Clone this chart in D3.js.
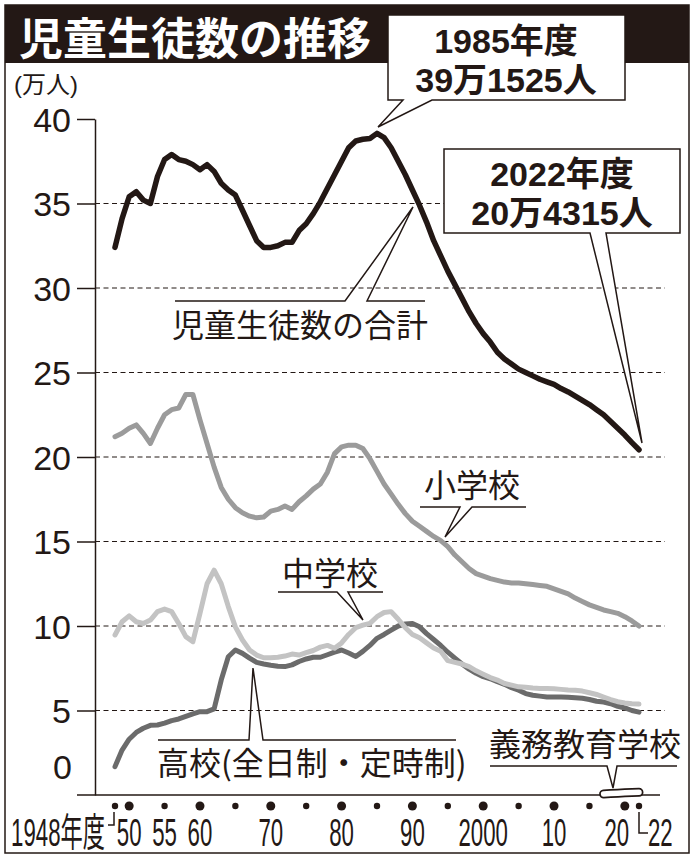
<!DOCTYPE html>
<html lang="ja"><head><meta charset="utf-8">
<script src="https://cdn.jsdelivr.net/npm/d3@7"></script>
<style>
html,body{margin:0;padding:0;background:#fff;}
svg{display:block;}
</style></head><body>
<svg id="c" width="696" height="860" lang="ja"></svg>
<script>
// ---- data (万人) ----
const startYear = 1948, endYear = 2022;
const years = d3.range(startYear, endYear + 1);
const total = [32.4,34.1,35.4,35.7,35.2,35.0,36.6,37.6,37.9,37.6,37.5,37.3,37.0,37.3,36.9,36.2,35.8,35.5,34.6,33.7,32.8,32.4,32.4,32.5,32.7,32.7,33.4,33.8,34.4,35.1,35.9,36.7,37.5,38.3,38.7,38.8,38.85,39.15,38.9,38.3,37.5,36.7,35.8,34.9,33.9,32.8,31.9,31.0,30.2,29.4,28.6,27.9,27.3,26.8,26.2,25.8,25.5,25.2,25.0,24.8,24.6,24.45,24.3,24.05,23.85,23.6,23.35,23.1,22.8,22.5,22.1,21.7,21.3,20.85,20.43];
const primary = [21.2,21.4,21.7,21.9,21.4,20.8,21.7,22.5,22.8,22.9,23.7,23.7,22.2,20.8,19.4,18.2,17.5,17.0,16.7,16.5,16.4,16.45,16.8,16.9,17.1,16.9,17.35,17.7,18.1,18.4,19.1,20.2,20.6,20.7,20.7,20.5,19.9,19.15,18.4,17.8,17.2,16.65,16.2,15.9,15.6,15.3,15.05,14.7,14.2,13.8,13.4,13.1,12.95,12.8,12.7,12.6,12.55,12.55,12.5,12.45,12.4,12.35,12.2,12.05,11.9,11.65,11.45,11.25,11.1,10.95,10.85,10.75,10.55,10.3,10.0];
const junior = [9.47,10.25,10.6,10.25,10.15,10.35,10.85,11.0,10.85,10.15,9.37,9.07,10.75,12.5,13.3,12.5,11.15,9.95,9.17,8.58,8.28,8.12,8.12,8.15,8.22,8.34,8.28,8.42,8.55,8.75,8.85,8.68,9.0,9.5,9.9,10.05,10.16,10.55,10.8,10.85,10.4,9.9,9.5,9.3,9.0,8.7,8.5,7.95,7.85,7.75,7.6,7.35,7.15,6.95,6.8,6.6,6.5,6.4,6.37,6.33,6.3,6.3,6.28,6.25,6.22,6.2,6.15,6.05,5.95,5.8,5.65,5.52,5.45,5.4,5.38];
const high = [1.68,2.66,3.3,3.7,3.95,4.12,4.14,4.25,4.4,4.5,4.65,4.8,4.93,4.93,5.1,6.8,8.18,8.58,8.38,8.1,7.85,7.75,7.68,7.62,7.6,7.7,7.9,8.05,8.15,8.15,8.3,8.45,8.58,8.4,8.2,8.5,8.85,9.27,9.5,9.75,10.0,10.12,10.15,9.95,9.55,9.2,8.85,8.45,8.1,7.75,7.45,7.2,7.0,6.88,6.7,6.55,6.35,6.2,6.0,5.9,5.85,5.8,5.8,5.8,5.78,5.75,5.72,5.65,5.55,5.5,5.4,5.25,5.15,5.0,4.9];
const compulsoryYears = [2017,2018,2019,2020,2021,2022];
const compulsory = [0.06,0.09,0.11,0.13,0.15,0.16];
const yTickValues = [5,10,15,20,25,30,35,40];
const gridValues = [5,10,15,20,25,30,35];
const majorDotYears = [1950,1960,1970,1980,1990,2000,2010,2020];
const minorDotYears = [1948,1955,1965,1975,1985,1995,2005,2015,2022];
const xLabelYears = [1950,1955,1960,1970,1980,1990,2000,2010,2020];
const xLabelTexts = ["50","55","60","70","80","90","2000","10","20"];

// ---- chart ----
const svg = d3.select("#c");
const x = d3.scaleLinear([startYear, endYear], [115, 639]);
const y = d3.scaleLinear([0, 40], [795, 119]);
const JP = "'Noto Sans CJK JP','Noto Sans',sans-serif";
const LJP = "'Liberation Sans','Noto Sans CJK JP',sans-serif";

// frame and title bar
svg.append("rect").attr("x",5).attr("y",5).attr("width",684).attr("height",848)
  .attr("fill","#fff").attr("stroke","#231815").attr("stroke-width",1.5);
svg.append("rect").attr("x",5).attr("y",5).attr("width",684).attr("height",58).attr("fill","#231815");
svg.append("text").attr("x",19).attr("y",55).attr("fill","#fff")
  .attr("font-family",LJP).attr("font-weight",700).attr("font-size",44).text("児童生徒数の推移");

// unit
svg.append("text").attr("x",14).attr("y",93).attr("font-family",LJP).attr("font-size",24)
  .attr("fill","#231815").text("(万人)");

// grid
svg.append("g").selectAll("line").data(gridValues).join("line")
  .attr("x1",95).attr("x2",665).attr("y1",d=>y(d)).attr("y2",d=>y(d))
  .attr("stroke","#231815").attr("stroke-width",1).attr("stroke-dasharray","5,3.5");

// y axis
const yAxis = d3.axisLeft(y).tickValues(yTickValues).tickSize(18).tickSizeOuter(0).tickPadding(6);
const gy = svg.append("g").attr("transform","translate(95,0)").call(yAxis);
gy.select(".domain").attr("stroke","#231815").attr("stroke-width",1.5);
gy.selectAll(".tick line").attr("stroke","#231815").attr("stroke-width",1.5);
gy.selectAll(".tick text").attr("font-family","'Liberation Sans',sans-serif").attr("font-size",34)
  .attr("fill","#231815").attr("dy","0.36em");
svg.append("text").attr("x",72).attr("y",767).attr("dy","0.36em").attr("text-anchor","end")
  .attr("font-family","'Liberation Sans',sans-serif").attr("font-size",34).attr("fill","#231815").text("0");

// x axis line
svg.append("line").attr("x1",77).attr("x2",660).attr("y1",y(0)).attr("y2",y(0))
  .attr("stroke","#231815").attr("stroke-width",1.5);

// dots
svg.append("g").selectAll("circle").data(majorDotYears).join("circle")
  .attr("cx",d=>x(d)).attr("cy",806).attr("r",4.5).attr("fill","#231815");
svg.append("g").selectAll("circle").data(minorDotYears).join("circle")
  .attr("cx",d=>x(d)).attr("cy",806).attr("r",3.2).attr("fill","#231815");

// x labels (condensed)
function condText(px, py, txt, anchor){
  svg.append("text").attr("transform",`translate(${px},${py}) scale(0.57,1)`)
    .attr("text-anchor",anchor).attr("font-family",LJP)
    .attr("font-size",39).attr("fill","#231815").text(txt);
}
const xlY = 846;
xLabelYears.forEach((yr,i)=>{
  const off = yr === 2020 ? -8 : 0;
  condText(x(yr)+off, xlY, xLabelTexts[i], "middle");
});
condText(105, xlY, startYear + "年度", "end");
condText(648, xlY, String(endYear).slice(2), "start");
svg.append("path").attr("d",`M108,825 H${x(startYear)-1} V812`).attr("fill","none")
  .attr("stroke","#231815").attr("stroke-width",1.5);
svg.append("path").attr("d",`M${x(endYear)},812 V833 H648`).attr("fill","none")
  .attr("stroke","#231815").attr("stroke-width",1.5);

// series lines
const line = d3.line().x(d=>x(d[0])).y(d=>y(d[1]));
function drawSeries(vals, yrs, color, w){
  svg.append("path").datum(yrs.map((yr,i)=>[yr, vals[i]])).attr("d",line)
    .attr("fill","none").attr("stroke",color).attr("stroke-width",w)
    .attr("stroke-linejoin","round").attr("stroke-linecap","round");
}
drawSeries(primary, years, "#9b9b9b", 5);
drawSeries(high, years, "#6b6b6b", 5);
drawSeries(junior, years, "#c3c3c3", 5);
drawSeries(total, years, "#231815", 5.5);
drawSeries(compulsory, compulsoryYears, "#231815", 9);
drawSeries(compulsory, compulsoryYears, "#ffffff", 5.5);

// series labels with pointers
function label(txt, tx, ty, path){
  svg.append("path").attr("d",path).attr("fill","none").attr("stroke","#231815")
    .attr("stroke-width",1.5).attr("stroke-linejoin","miter");
  svg.append("text").attr("x",tx).attr("y",ty).attr("font-family",JP).attr("font-size",32)
    .attr("fill","#231815").text(txt);
}
label("児童生徒数の合計", 172, 337, "M175,301 H345 L413,207 L367,301 H425");
label("小学校", 424, 497, "M420,507 H460 L445,537 L472,507 H526");
label("中学校", 282, 585, "M278,592 H337 L363,620 L348,592 H383");
label("高校(全日制・定時制)", 157, 775, "M158,740 H249 L253,668 L263,740 H456");
label("義務教育学校", 489, 756, "M490,766 H607 L613,788 L617,766 H677");

// annotation boxes
function callout(path, lines, cx, baselines){
  svg.append("path").attr("d",path).attr("fill","#fff").attr("stroke","#231815")
    .attr("stroke-width",1.5).attr("stroke-linejoin","miter");
  lines.forEach((s,i)=>{
    svg.append("text").attr("x",cx).attr("y",baselines[i]).attr("text-anchor","middle")
      .attr("font-family",LJP).attr("font-weight",700).attr("font-size",34)
      .attr("fill","#231815").text(s);
  });
}
callout("M388,15 H625 V100 H432 L378,127 L403,100 H388 Z",
  ["1985年度","39万1525人"], 506, [53, 91.5]);
callout("M444,149 H680 V233 H606 L642,443 L590,233 H444 Z",
  ["2022年度","20万4315人"], 562, [186, 224.5]);
</script>
</body></html>
